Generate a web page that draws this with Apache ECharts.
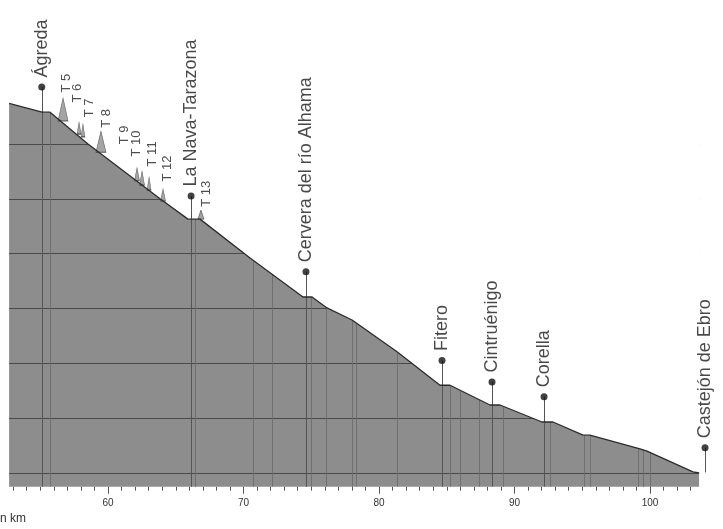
<!DOCTYPE html>
<html><head><meta charset="utf-8">
<script src="https://cdn.jsdelivr.net/npm/echarts@6/dist/echarts.min.js"></script>
<style>html,body{margin:0;padding:0;background:#fff}#c{width:723px;height:529px}</style>
</head><body><div id="c"></div>
<script>
// ---- data (km, elevation in m) ----
const profileKm   = [52.7, 55.13, 55.72, 58.52, 63.84, 65.90, 66.79, 70.48, 74.39, 75.06, 76.16, 78.01, 81.33, 84.50, 85.24, 88.19, 88.93, 92.03, 92.84, 95.06, 95.57, 99.26, 99.78, 103.17, 103.62];
const profileElev = [974, 958, 958, 900, 800, 763, 763, 692, 621, 621, 601, 579, 521, 460, 460, 424, 424, 393, 393, 369, 369, 344, 340, 302, 300];
const elevGridLines = [300, 400, 500, 600, 700, 800, 900];
const markerLinesKm = [55.72, 66.42, 70.70, 72.10, 74.98, 76.09, 78.01, 78.30, 81.33, 85.24, 85.98, 87.38, 89.15, 92.62, 95.13, 95.57, 99.11, 99.48, 100.00];
const townNames   = ['Ágreda', 'La Nava-Tarazona', 'Cervera del río Alhama', 'Fitero', 'Cintruénigo', 'Corella', 'Castejón de Ebro'];
const townKm      = [55.11, 66.13, 74.61, 84.65, 88.34, 92.18, 104.06];
const townDotElev = [1004, 805, 667, 505, 466, 439, 346];
const townBaseElev = [275, 275, 275, 275, 275, 275, 301];
const tNames = ['T 5', 'T 6', 'T 7', 'T 8', 'T 9', 'T 10', 'T 11', 'T 12', 'T 13'];
const tKm    = [56.68, 57.86, 58.15, 59.48, 62.14, 62.51, 63.03, 64.06, 66.86];
const tElev  = [942, 918, 913, 885, 833, 825, 816, 796, 763];
const majorTicksKm = [60, 70, 80, 90, 100];
const minorTicksKm = [53, 54, 55, 56, 57, 58, 59, 61, 62, 63, 64, 65, 66, 67, 68, 69, 71, 72, 73, 74, 75, 76, 77, 78, 79, 81, 82, 83, 84, 85, 86, 87, 88, 89, 91, 92, 93, 94, 95, 96, 97, 98, 99, 101, 102, 103];

// ---- styling (sizes / label placement of the small T marks) ----
const tSymbolSize = [[10, 23], [4, 12], [4, 13], [10, 21], [5, 13], [5, 14], [4, 13], [5, 12], [6, 9]];
const tLabelShift = [[4, -5], [-1, -19], [7, -6], [6, -3], [-12, -23], [-5, -14], [4, -10], [5, -7], [6, -3]];

const XMIN = 52.7, XMAX = 104.5, YMIN = 275, YMAX = 1100;
const FONT = "'Liberation Sans', Arial, sans-serif";
const NARROW = "'Liberation Sans Narrow', 'Arial Narrow', 'Liberation Sans', Arial, sans-serif";
const AREA = '#8d8d8d';

const profile = profileKm.map((k, i) => [k, profileElev[i]]);
const firstKm = profileKm[0], lastKm = profileKm[profileKm.length - 1];
const topElev = Math.max.apply(null, profileElev);

const hLines = elevGridLines.map(v => [
  { coord: [firstKm, v], lineStyle: { color: '#4a4a4a', width: 1.2, type: 'solid' } },
  { coord: [lastKm, v] }
]);
const vLines = markerLinesKm.map(k => [
  { coord: [k, YMIN], lineStyle: { color: '#686868', width: 0.8, type: 'solid' } },
  { coord: [k, topElev] }
]);

const towns = townNames.map((n, i) => ({ name: n, value: [townKm[i], townDotElev[i]] }));
const stems = townNames.map((n, i) => [
  { coord: [townKm[i], townDotElev[i]] },
  { coord: [townKm[i], townBaseElev[i]] }
]);

const tMarks = tNames.map((n, i) => ({
  name: n,
  value: [tKm[i], tElev[i]],
  symbolSize: tSymbolSize[i],
  symbolOffset: [0, '-50%'],
  label: { position: [tSymbolSize[i][0] / 2 + tLabelShift[i][0], tLabelShift[i][1]] }
}));

const chart = echarts.init(document.getElementById('c'), null, { renderer: 'canvas' });
chart.setOption({
  animation: false,
  backgroundColor: '#fff',
  title: {
    text: 'n km', left: 0, top: 513, padding: 0,
    textStyle: { fontSize: 12, fontWeight: 'normal', color: '#333', fontFamily: NARROW }
  },
  grid: { left: 9.1, right: 12, top: 34.35, bottom: 42.3 },
  xAxis: [
    {
      type: 'value', min: XMIN, max: XMAX, position: 'bottom',
      axisLine: { show: false }, splitLine: { show: false },
      axisTick: { show: true, customValues: minorTicksKm, length: 4, lineStyle: { color: '#555', width: 1 } },
      axisLabel: { show: false }
    },
    {
      type: 'value', min: XMIN, max: XMAX, position: 'bottom', offset: 0,
      axisLine: { show: false }, splitLine: { show: false },
      axisTick: { show: true, customValues: majorTicksKm, length: 7, lineStyle: { color: '#555', width: 1 } },
      axisLabel: { show: true, customValues: majorTicksKm, fontSize: 10, color: '#333', margin: 12, fontFamily: NARROW }
    }
  ],
  yAxis: { type: 'value', min: YMIN, max: YMAX, show: false, splitLine: { show: false } },
  series: [
    {
      type: 'line', data: profile, symbol: 'none', silent: true, z: 1,
      lineStyle: { opacity: 0 },
      areaStyle: { color: AREA, opacity: 1 },
      markLine: { silent: true, symbol: 'none', z: 1.5, animation: false, label: { show: false }, data: hLines.concat(vLines) }
    },
    {
      type: 'line', data: profile, symbol: 'none', silent: true, z: 2,
      lineStyle: { opacity: 0 },
      areaStyle: { color: '#ffffff', opacity: 1, origin: 'end' }
    },
    {
      type: 'scatter', data: tMarks, symbol: 'triangle', silent: true, z: 3, clip: false,
      itemStyle: { color: AREA, borderColor: '#3a3a3a', borderWidth: 0.7 },
      label: {
        show: true, formatter: '{b}', rotate: 90, align: 'left', verticalAlign: 'middle',
        fontSize: 13, color: '#222', fontFamily: FONT
      }
    },
    {
      type: 'line', data: profile, symbol: 'none', silent: true, z: 4,
      lineStyle: { color: '#2b2b2b', width: 1.3 }
    },
    {
      type: 'scatter', data: towns, symbol: 'circle', symbolSize: 7, silent: true, z: 5, clip: false,
      itemStyle: { color: '#111' },
      label: {
        show: true, formatter: '{b}', position: 'top', distance: 6, rotate: 90,
        align: 'left', verticalAlign: 'middle', fontSize: 18, color: '#1a1a1a', fontFamily: FONT
      },
      markLine: {
        silent: true, symbol: 'none', z: 3.2, animation: false, label: { show: false },
        lineStyle: { color: '#555', width: 1, type: 'solid' },
        data: stems
      }
    }
  ]
});
</script>
</body></html>
